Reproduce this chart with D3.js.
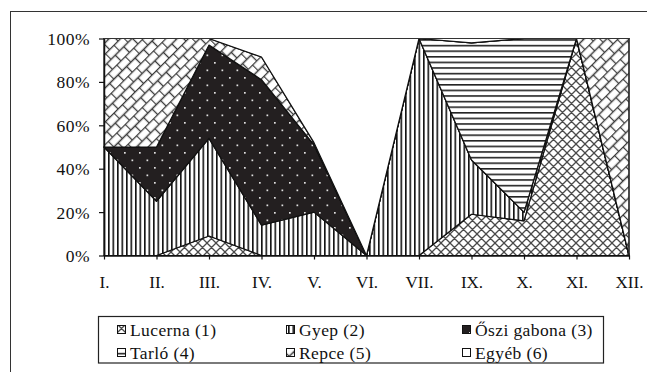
<!DOCTYPE html>
<html>
<head>
<meta charset="utf-8">
<script src="https://cdn.jsdelivr.net/npm/d3@7"></script>
<style>
  html, body { margin: 0; padding: 0; background: #fff; }
  svg { display: block; }
  text { font-family: "Liberation Serif", "Times New Roman", serif; fill: #111; }
</style>
</head>
<body>
<svg id="chart" width="647" height="372"></svg>
<script>
// ---- data (percent shares, stacked to 100%) ----
const months  = ["I.","II.","III.","IV.","V.","VI.","VII.","IX.","X.","XI.","XII."];
const lucerna = [0, 0, 9, 0, 0, 0, 0, 19, 16, 100, 0];
const gyep    = [50, 25, 45, 14, 20, 0, 100, 25, 4, 0, 0];
const oszi    = [0, 25, 43, 67, 31, 0, 0, 0, 0, 0, 0];
const tarlo   = [0, 0, 0, 0, 0, 0, 0, 54, 80, 0, 0];
const repce   = [50, 50, 3, 10.5, 1, 0, 0, 0, 0, 0, 100];
const egyeb   = [0, 0, 0, 8.5, 48, 100, 0, 2, 0, 0, 0];
const seriesNames = ["Lucerna (1)", "Gyep (2)", "Őszi gabona (3)", "Tarló (4)", "Repce (5)", "Egyéb (6)"];
const yTicks = [0, 20, 40, 60, 80, 100];

const keys = ["lucerna","gyep","oszi","tarlo","repce","egyeb"];
const seriesArrays = [lucerna, gyep, oszi, tarlo, repce, egyeb];
const table = months.map((m, i) => {
  const row = { month: m };
  keys.forEach((k, j) => row[k] = seriesArrays[j][i]);
  return row;
});

const svg = d3.select("#chart");
const W = 647, H = 372;
const plot = { left: 104, right: 629, top: 38.5, bottom: 255.5 };
const FONT = '"Liberation Serif", "Times New Roman", serif';

// ---- patterns ----
const defs = svg.append("defs");
// Lucerna: diagonal cross-hatch
{
  const p = defs.append("pattern").attr("id","p-lucerna").attr("patternUnits","userSpaceOnUse")
    .attr("width", 9).attr("height", 9);
  p.append("rect").attr("width",9).attr("height",9).attr("fill","#fff");
  p.append("path").attr("d","M0,0L9,9M9,0L0,9M-1,8L1,10M8,-1L10,1M-1,1L1,-1M8,10L10,8")
    .attr("stroke","#4a4a4a").attr("stroke-width",1.3).attr("fill","none");
}
// Gyep: vertical lines
{
  const p = defs.append("pattern").attr("id","p-gyep").attr("patternUnits","userSpaceOnUse")
    .attr("width", 4.5).attr("height", 10);
  p.append("rect").attr("width",4.5).attr("height",10).attr("fill","#fff");
  p.append("rect").attr("x",0).attr("width",1.6).attr("height",10).attr("fill","#111");
}
// Őszi gabona: black with white dots
{
  const p = defs.append("pattern").attr("id","p-oszi").attr("patternUnits","userSpaceOnUse")
    .attr("width", 15).attr("height", 15).attr("x", 2).attr("y", 0);
  p.append("rect").attr("width",15).attr("height",15).attr("fill","#231f20");
  p.append("rect").attr("x",2).attr("y",2).attr("width",1.7).attr("height",1.7).attr("fill","#e0e0e0");
  p.append("rect").attr("x",9.5).attr("y",9.5).attr("width",1.7).attr("height",1.7).attr("fill","#e0e0e0");
}
// Tarló: horizontal lines
{
  const p = defs.append("pattern").attr("id","p-tarlo").attr("patternUnits","userSpaceOnUse")
    .attr("width", 10).attr("height", 5.6);
  p.append("rect").attr("width",10).attr("height",5.6).attr("fill","#fff");
  p.append("rect").attr("y",0).attr("width",10).attr("height",1.6).attr("fill","#222");
}
// Repce: diagonal brick
{
  const p = defs.append("pattern").attr("id","p-repce").attr("patternUnits","userSpaceOnUse")
    .attr("width", 12).attr("height", 16).attr("patternTransform","rotate(-45)");
  p.append("rect").attr("width",12).attr("height",16).attr("fill","#fff");
  p.append("path").attr("d","M0,0.5H12M0,8.5H12M0.5,0.5V8.5M6.5,8.5V16.5")
    .attr("stroke","#3a3a3a").attr("stroke-width",1.3).attr("fill","none");
}
const fills = {
  lucerna: "url(#p-lucerna)", gyep: "url(#p-gyep)", oszi: "url(#p-oszi)",
  tarlo: "url(#p-tarlo)", repce: "url(#p-repce)", egyeb: "#fff"
};

// ---- background & outer frame ----
svg.append("rect").attr("width",W).attr("height",H).attr("fill","#fff");
svg.append("rect").attr("x",10.5).attr("y",11.5).attr("width",700).attr("height",500)
  .attr("fill","none").attr("stroke","#333").attr("stroke-width",1);

// ---- scales ----
const x = d3.scalePoint().domain(months).range([plot.left, plot.right]);
const y = d3.scaleLinear().domain([0, 100]).range([plot.bottom, plot.top]);

// ---- stacked areas ----
const stack = d3.stack().keys(keys).order(d3.stackOrderNone).offset(d3.stackOffsetNone);
const layers = stack(table);
const area = d3.area()
  .x(d => x(d.data.month))
  .y0(d => y(d[0]))
  .y1(d => y(d[1]));

svg.append("g").selectAll("path").data(layers).join("path")
  .attr("d", area)
  .attr("fill", d => fills[d.key])
  .attr("stroke", "#111")
  .attr("stroke-width", 1.2)
  .attr("stroke-linejoin", "round");

// ---- plot frame (top & right) ----
svg.append("path")
  .attr("d", `M${plot.left},${plot.top}H${plot.right}V${plot.bottom}`)
  .attr("fill","none").attr("stroke","#333").attr("stroke-width",1.2);

// ---- axes ----
const yAxis = d3.axisLeft(y).tickValues(yTicks).tickSize(5).tickSizeOuter(0)
  .tickFormat(d => d + "%");
const gy = svg.append("g").attr("transform", `translate(${plot.left},0)`).call(yAxis);
gy.attr("font-family", null);
gy.select(".domain").attr("stroke","#111").attr("stroke-width",1.5);
gy.selectAll(".tick line").attr("stroke","#111").attr("stroke-width",1.2);
gy.selectAll(".tick text").attr("x", -14).attr("dy","0.34em")
  .style("font-family", FONT).style("font-size","17.5px").style("letter-spacing","0.5px").attr("fill","#111");

const xAxis = d3.axisBottom(x).tickSize(4).tickSizeOuter(0);
const gx = svg.append("g").attr("transform", `translate(0,${plot.bottom})`).call(xAxis);
gx.attr("font-family", null);
gx.select(".domain").attr("stroke","#111").attr("stroke-width",1.5);
gx.selectAll(".tick line").attr("stroke","#111").attr("stroke-width",1.2);
gx.selectAll(".tick text").attr("y", 20).attr("dy","0.71em")
  .style("font-family", FONT).style("font-size","17px").attr("fill","#111");

// ---- legend ----
const lg = svg.append("g");
lg.append("rect").attr("x",98.5).attr("y",316.5).attr("width",505).attr("height",46.5)
  .attr("fill","#fff").attr("stroke","#222").attr("stroke-width",1.2);
const colX = [117, 286, 462];
const rowY = [330, 353];
keys.forEach((k, i) => {
  const cx = colX[i % 3], cy = rowY[Math.floor(i / 3)];
  lg.append("rect").attr("x", cx + 0.5).attr("y", cy - 4.5).attr("width", 8).attr("height", 8)
    .attr("fill", fills[k]).attr("stroke","#111").attr("stroke-width",1);
  lg.append("text").attr("x", cx + 13).attr("y", cy).attr("dy","0.34em")
    .style("font-family", FONT).style("font-size","17.5px").style("letter-spacing","0.4px")
    .text(seriesNames[i]);
});
</script>
</body>
</html>
